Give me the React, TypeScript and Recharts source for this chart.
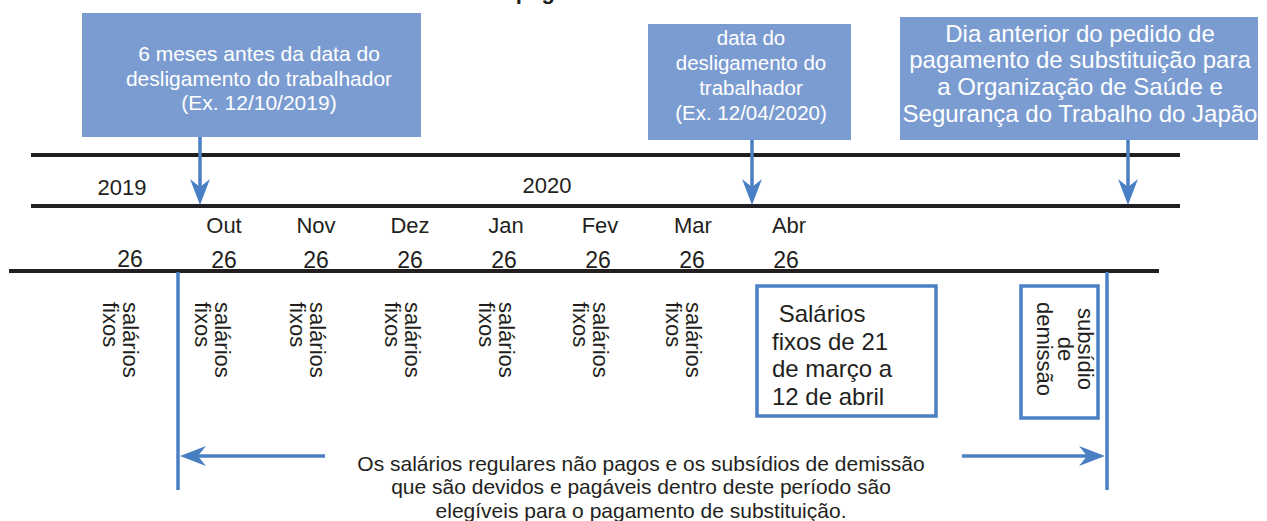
import React from 'react';
import { ComposedChart, XAxis, YAxis, ReferenceLine, ReferenceArea, Scatter } from 'recharts';

const W = 1267;
const H = 521;
const FONT = '"Liberation Sans", Arial, Helvetica, sans-serif';
const BLACK = '#231f20';
const BLUE = '#4a7fc3';
const BOX = '#7b9cd1';

// ---- text content ----
const titleText = 'Período de pagamento';
const years = ['2019', '2020'];
const months = ['Out', 'Nov', 'Dez', 'Jan', 'Fev', 'Mar', 'Abr'];
const paydayLabel = '26';
const fixedWageLines = ['salários', 'fixos'];
const lastWageLines = [' Salários', 'fixos de 21', 'de março a', '12 de abril'];
const severanceLines = ['subsídio', 'de', 'demissão'];
const event1Lines = ['6 meses antes da data do', 'desligamento do trabalhador', '(Ex. 12/10/2019)'];
const event2Lines = ['data do', 'desligamento do', 'trabalhador', '(Ex. 12/04/2020)'];
const event3Lines = ['Dia anterior do pedido de', 'pagamento de substituição para', 'a Organização de Saúde e', 'Segurança do Trabalho do Japão'];
const periodLines = [
  'Os salários regulares não pagos e os subsídios de demissão',
  'que são devidos e pagáveis dentro deste período são',
  'elegíveis para o pagamento de substituição.',
];

// ---- timeline layout (data units of the chart axes) ----
const yearX = [122, 547];
const yearY = [195, 193];
const monthX = [224, 316, 410, 506, 600, 693, 789];
const paydayX = [130, 224, 316, 410, 504, 598, 692, 786];
const fixedWageX = [123, 215, 310, 405, 499, 593, 686];
const timelineRows = [
  { y: 155, x1: 31, x2: 1180 },
  { y: 206, x1: 31, x2: 1180 },
  { y: 271, x1: 9, x2: 1159 },
];
const eventBoxes = [
  { x1: 82, x2: 421, y1: 13, y2: 137 },
  { x1: 648, x2: 851, y1: 24, y2: 140 },
  { x1: 900, x2: 1258, y1: 17, y2: 140 },
];
const eventArrowX = [200, 752, 1128];
const outlineBoxes = [
  { x1: 757, x2: 936, y1: 286, y2: 416 },
  { x1: 1021, x2: 1098, y1: 286, y2: 418 },
];
const periodBoundsX = [178, 1107];

const texts = [
  { x: 396, y: -1, lines: [titleText], fs: 22, weight: 'bold', anchor: 'start' },
  ...years.map((t, i) => ({ x: yearX[i], y: yearY[i], lines: [t], fs: 22 })),
  ...months.map((t, i) => ({ x: monthX[i], y: 233, lines: [t], fs: 22 })),
  ...paydayX.map((x, i) => ({ x, y: i === 0 ? 267 : 268, lines: [paydayLabel], fs: 23 })),
  ...fixedWageX.map((x) => ({ x, y: 302, lines: fixedWageLines, fs: 22, lh: 20.5, anchor: 'start', rotate: 90 })),
  { x: 772, y: 322, lines: lastWageLines, fs: 24, lh: 27.7, anchor: 'start' },
  { x: 1078, y: 349, lines: severanceLines, fs: 22, lh: 20.5, rotate: 90 },
  { x: 259, y: 61, lines: event1Lines, fs: 21, lh: 24.5, fill: '#ffffff' },
  { x: 751, y: 44.5, lines: event2Lines, fs: 20.5, lh: 25, fill: '#ffffff' },
  { x: 1080, y: 41.6, lines: event3Lines, fs: 24, lh: 26.8, fill: '#ffffff' },
  { x: 641, y: 470.5, lines: periodLines, fs: 21, lh: 23.5 },
];

const arrowHeads = [
  ...eventArrowX.map((x) => ({ x, y: 205, dir: 'down' })),
  { x: 180, y: 456, dir: 'left' },
  { x: 1105, y: 456, dir: 'right' },
];

const TextShape = (props: any) => {
  const { cx, cy, payload } = props;
  const { lines, fs, lh = fs * 1.2, anchor = 'middle', rotate = 0, fill = BLACK, weight = 'normal' } = payload;
  return (
    <text
      x={cx}
      y={cy}
      fontSize={fs}
      fontFamily={FONT}
      fill={fill}
      fontWeight={weight}
      textAnchor={anchor}
      xmlSpace="preserve"
      transform={rotate ? `rotate(${rotate}, ${cx}, ${cy})` : undefined}
    >
      {lines.map((l: string, i: number) => (
        <tspan key={i} x={cx} dy={i === 0 ? 0 : lh}>
          {l}
        </tspan>
      ))}
    </text>
  );
};

const ArrowShape = (props: any) => {
  const { cx, cy, payload } = props;
  const rot = payload.dir === 'left' ? 90 : payload.dir === 'right' ? -90 : 0;
  return (
    <path
      d={`M${cx},${cy} L${cx - 10},${cy - 26} L${cx},${cy - 18} L${cx + 10},${cy - 26} Z`}
      fill={BLUE}
      transform={`rotate(${rot}, ${cx}, ${cy})`}
    />
  );
};

export default function App() {
  return (
    <div style={{ position: 'absolute', left: 0, top: 0, width: W, height: H, background: '#fff' }}>
      <ComposedChart width={W} height={H} margin={{ top: 0, right: 0, bottom: 0, left: 0 }}>
        <XAxis type="number" dataKey="x" domain={[0, W]} allowDataOverflow hide />
        <YAxis type="number" dataKey="y" domain={[0, H]} allowDataOverflow reversed hide />

        {eventBoxes.map((b, i) => (
          <ReferenceArea key={`eb${i}`} x1={b.x1} x2={b.x2} y1={b.y1} y2={b.y2} fill={BOX} fillOpacity={1} stroke="none" />
        ))}
        {outlineBoxes.map((b, i) => (
          <ReferenceArea key={`ob${i}`} x1={b.x1} x2={b.x2} y1={b.y1} y2={b.y2} fill="#ffffff" fillOpacity={1} stroke={BLUE} strokeWidth={3.5} />
        ))}

        {timelineRows.map((r, i) => (
          <ReferenceLine key={`tl${i}`} segment={[{ x: r.x1, y: r.y }, { x: r.x2, y: r.y }]} stroke={BLACK} strokeWidth={4} />
        ))}

        {eventArrowX.map((x, i) => (
          <ReferenceLine key={`ea${i}`} segment={[{ x, y: eventBoxes[i].y2 }, { x, y: 190 }]} stroke={BLUE} strokeWidth={3.5} />
        ))}

        {periodBoundsX.map((x, i) => (
          <ReferenceLine key={`pb${i}`} segment={[{ x, y: 272 }, { x, y: 490 }]} stroke={BLUE} strokeWidth={3.5} />
        ))}
        <ReferenceLine segment={[{ x: 195, y: 456 }, { x: 325, y: 456 }]} stroke={BLUE} strokeWidth={3.5} />
        <ReferenceLine segment={[{ x: 962, y: 456 }, { x: 1090, y: 456 }]} stroke={BLUE} strokeWidth={3.5} />

        <Scatter data={arrowHeads} shape={ArrowShape} isAnimationActive={false} />
        <Scatter data={texts} shape={TextShape} isAnimationActive={false} />
      </ComposedChart>
    </div>
  );
}
